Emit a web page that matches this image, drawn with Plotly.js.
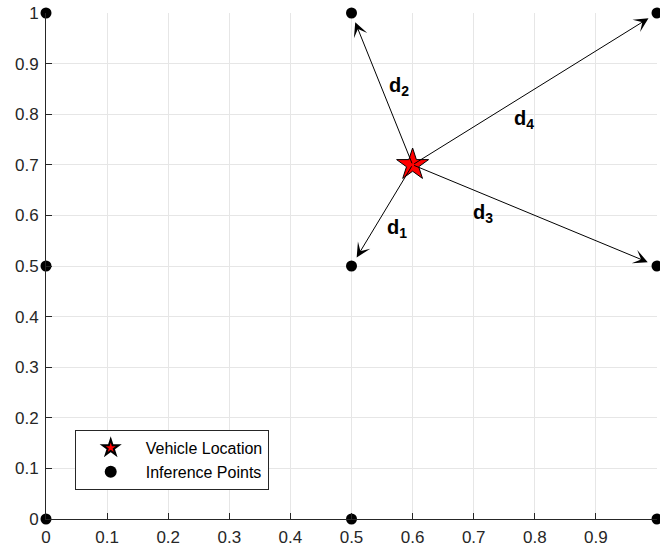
<!DOCTYPE html>
<html><head><meta charset="utf-8">
<script src="https://cdn.plot.ly/plotly-3.0.1.min.js"></script>
<style>body{margin:0;padding:0;background:#fff}#plot{width:660px;height:550px}</style>
</head><body><div id="plot"></div>
<script>
var vehicleX = [0.6];
var vehicleY = [0.7];
var pointsX = [0, 0.5, 1, 0, 0.5, 1, 0, 0.5, 1];
var pointsY = [0, 0, 0, 0.5, 0.5, 0.5, 1, 1, 1];
var arrowTargetsX = [0.5, 0.5, 1, 1];
var arrowTargetsY = [0.5, 1, 0.5, 1];
var labelTexts = ['d<sub>1</sub>', 'd<sub>2</sub>', 'd<sub>3</sub>', 'd<sub>4</sub>'];
var labelX = [0.575, 0.578, 0.715, 0.783];
var labelY = [0.574, 0.855, 0.603, 0.789];
var tickVals = [0, 0.1, 0.2, 0.3, 0.4, 0.5, 0.6, 0.7, 0.8, 0.9, 1];
var tickText = ['0', '0.1', '0.2', '0.3', '0.4', '0.5', '0.6', '0.7', '0.8', '0.9', '1'];

var traces = [
  {x: vehicleX, y: vehicleY, type: 'scatter', mode: 'markers', name: 'Vehicle Location',
   marker: {symbol: 'star', size: 24, color: '#ff0000', line: {color: '#000', width: 1}}, cliponaxis: false},
  {x: pointsX, y: pointsY, type: 'scatter', mode: 'markers', name: 'Inference Points',
   marker: {symbol: 'circle', size: 11, color: '#000'}, cliponaxis: false}
];

var annotations = [];
for (var i = 0; i < arrowTargetsX.length; i++) {
  annotations.push({x: arrowTargetsX[i], y: arrowTargetsY[i], xref: 'x', yref: 'y',
    ax: vehicleX[0], ay: vehicleY[0], axref: 'x', ayref: 'y', text: '',
    showarrow: true, arrowhead: 3, arrowsize: 2.4, arrowwidth: 1, arrowcolor: '#000', standoff: 10});
}
for (var j = 0; j < labelTexts.length; j++) {
  annotations.push({x: labelX[j], y: labelY[j], xref: 'x', yref: 'y', text: '<b>' + labelTexts[j] + '</b>',
    showarrow: false, font: {family: 'Arial, Liberation Sans, sans-serif', size: 20, color: '#000'}});
}

var axisCommon = {
  range: [0, 1], tickvals: tickVals, ticktext: tickText, showgrid: true, gridcolor: '#e6e6e6', gridwidth: 1,
  zeroline: false, showline: true, linecolor: '#262626', linewidth: 1, ticks: 'inside', ticklen: 6,
  tickcolor: '#262626', tickfont: {family: 'Arial, Liberation Sans, sans-serif', size: 17, color: '#262626'}
};
var layout = {
  width: 660, height: 550,
  margin: {l: 46, r: 3, t: 13, b: 31},
  paper_bgcolor: '#fff', plot_bgcolor: '#fff',
  xaxis: Object.assign({}, axisCommon, {ticklabelstandoff: 3}),
  yaxis: Object.assign({}, axisCommon, {ticklabelstandoff: 3}),
  showlegend: true,
  legend: {x: 0.047, y: 0.176, xanchor: 'left', yanchor: 'top', bgcolor: '#fff', bordercolor: '#262626', borderwidth: 1,
    itemsizing: 'constant', itemwidth: 60, tracegroupgap: 0,
    font: {family: 'Arial, Liberation Sans, sans-serif', size: 16, color: '#000'}},
  annotations: annotations
};
Plotly.newPlot('plot', traces, layout, {displayModeBar: false, staticPlot: true});
</script></body></html>
